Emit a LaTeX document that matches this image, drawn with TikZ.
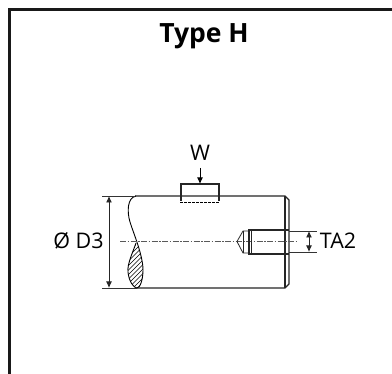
\documentclass[tikz,border=0pt]{standalone}
\usepackage{fontspec}
\setmainfont{Open Sans}
\usetikzlibrary{arrows.meta}
\tikzset{
  part/.style={line width=1.1pt,draw=black!85},
  thin line/.style={line width=0.9pt,draw=black!80},
  dim/.style={line width=0.9pt,draw=black!85,{Latex[length=6.5pt,width=6pt]}-{Latex[length=6.5pt,width=6pt]}},
  centre/.style={line width=0.8pt,draw=black!65,dash pattern=on 6pt off 1.5pt on 1.5pt off 1.5pt},
  label/.style={font=\fontsize{21.5}{22}\selectfont,text=black,inner sep=0pt,anchor=center},
}
\begin{document}
\begin{tikzpicture}[x=1pt,y=-1pt]
\useasboundingbox (0,0) rectangle (392,374);
\fill[white] (0,0) rectangle (392,374);
% frame
\draw[line width=2.5pt,draw=black!90] (9.5,374) -- (9.5,9.5) -- (392,9.5);
% title
\node[font=\fontsize{26.5}{27}\selectfont\bfseries,inner sep=0pt] (title) at (204,36.5) {Type H};
% shaft
\draw[part] (135,196) -- (285,196) -- (289,200) -- (289,284) -- (285,288) -- (137,288);
\draw[part] (285,196) -- (285,288);
% hatching
\begin{scope}
\clip (136,243)
   .. controls (133,252) and (127,264) .. (128,272)
   .. controls (129,282) and (134,288) .. (137,288)
   .. controls (140,288) and (143,280) .. (143,270)
   .. controls (143,260) and (139,250) .. (136,243) -- cycle;
\foreach \k in {0,4.5,...,72}
  \draw[line width=0.6pt] (120,256+\k) -- (150,226+\k);
\end{scope}
% break line
\draw[line width=0.9pt,draw=black] (136,196) .. controls (127,198) and (127,212) .. (130,222)
   .. controls (133,232) and (143,255) .. (143,270)
   .. controls (143,280) and (140,288) .. (137,288);
\draw[line width=0.9pt,draw=black] (136,243)
   .. controls (133,252) and (127,264) .. (128,272)
   .. controls (129,282) and (134,288) .. (137,288);
% key
\draw[part] (181,201) -- (181,184) -- (219,184) -- (219,201);
\draw[line width=1pt,draw=black,dash pattern=on 3pt off 1pt] (180,203) -- (219,203);
% W
\node[label] (w) at (200,153) {W};
\coordinate (wa) at (200,168);
\coordinate (wb) at (200,184);
\draw[line width=0.9pt,-{Latex[length=6.5pt,width=6pt]}] (wa) -- (wb);
% centre line
\draw[centre] (120,241.5) -- (297,241.5);
% D3 dimension
\draw[thin line] (102,196) -- (135,196);
\draw[thin line] (102,288) -- (137,288);
\coordinate (da) at (109,196);
\coordinate (db) at (109,288);
\draw[dim] (da) -- (db);
\node[label] (d3) at (78.5,241) {Ø D3};
% threaded hole
\draw[line width=1.3pt,draw=black!85] (289,230) -- (249,230) -- (249,254) -- (289,254);
\draw[line width=0.8pt,draw=black!85] (250,231) -- (243,231) -- (237,241.5) -- (243,253) -- (250,253);
\draw[line width=0.8pt,draw=black!85] (243,231) -- (243,253);
\draw[line width=0.9pt,draw=black!85] (251,231) -- (251,253);
% TA2 dimension
\draw[thin line] (289,231) -- (317,231);
\draw[thin line] (289,252) -- (317,252);
\coordinate (ta) at (309,231);
\coordinate (tb) at (309,252);
\draw[dim] (ta) -- (tb);
\node[label] (ta2) at (338,241) {TA2};
\end{tikzpicture}
\end{document}
